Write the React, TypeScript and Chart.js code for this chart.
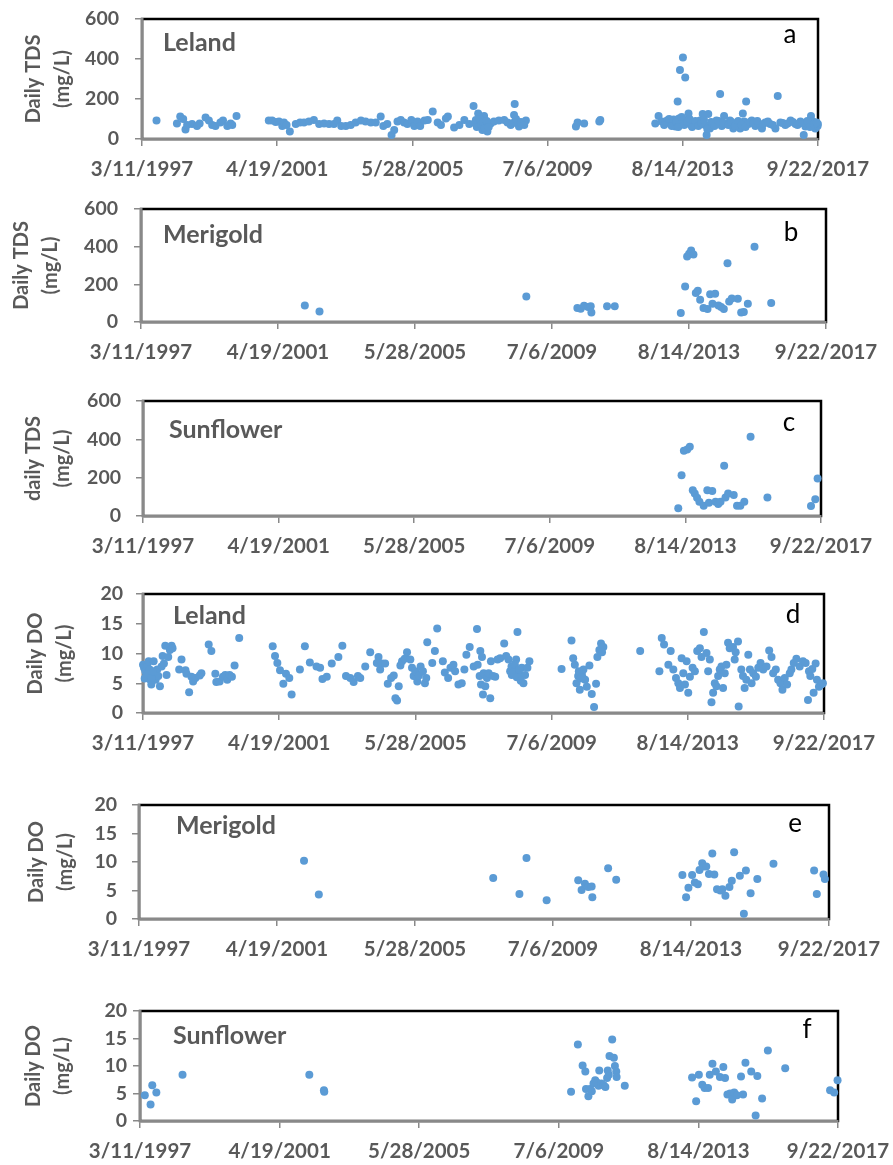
import React, { useEffect, useRef } from 'react';
import { Chart, registerables } from 'chart.js';

Chart.register(...registerables);

// ---------- axis ticks ----------
const xTickValues = [1997.189, 2001.296, 2005.403, 2009.51, 2013.616, 2017.723];
const xTickLabels = ['3/11/1997', '4/19/2001', '5/28/2005', '7/6/2009', '8/14/2013', '9/22/2017'];
const tdsTickValues = [0, 200, 400, 600];
const doTickValues = [0, 5, 10, 15, 20];

// ---------- data (x = decimal year, y = mg/L) ----------
const lelandTdsYears = [
  1997.63, 1998.25, 1998.35, 1998.44, 1998.51, 1998.56, 1998.71, 1998.86, 1998.94, 1999.12, 1999.22, 1999.32,
  1999.42, 1999.57, 1999.65, 1999.78, 1999.88, 1999.93, 2000.06, 2001.04, 2001.14, 2001.25, 2001.35, 2001.45,
  2001.5, 2001.58, 2001.68, 2001.86, 2001.99, 2002.11, 2002.26, 2002.41, 2002.57, 2002.72, 2002.87, 2003.02,
  2003.12, 2003.24, 2003.38, 2003.53, 2003.68, 2003.84, 2003.98, 2004.14, 2004.29, 2004.44, 2004.52, 2004.64,
  2004.77, 2004.85, 2004.95, 2005.05, 2005.15, 2005.25, 2005.37, 2005.46, 2005.56, 2005.64, 2005.77, 2005.87,
  2006.02, 2006.17, 2006.27, 2006.42, 2006.48, 2006.67, 2006.83, 2006.98, 2007.13, 2007.26, 2007.33, 2007.4,
  2007.43, 2007.48, 2007.53, 2007.58, 2007.63, 2007.68, 2007.78, 2007.88, 2008.03, 2008.19, 2008.29, 2008.39,
  2008.49, 2008.51, 2008.57, 2008.64, 2008.74, 2008.85, 2007.3, 2007.36, 2007.45, 2007.5, 2007.55, 2007.6,
  2007.66, 2007.72, 2008.45, 2008.55, 2008.7, 2008.8, 2010.37, 2010.42, 2010.62, 2011.08, 2011.11, 2012.78,
  2012.88, 2012.98, 2013.14, 2013.24, 2013.34, 2013.39, 2013.46, 2013.5, 2013.53, 2013.56, 2013.62, 2013.69,
  2013.72, 2013.79, 2013.86, 2013.94, 2014.04, 2014.14, 2014.22, 2014.29, 2014.34, 2014.39, 2014.44, 2014.54,
  2014.64, 2014.75, 2014.8, 2014.87, 2014.95, 2015.05, 2015.15, 2015.25, 2015.36, 2015.44, 2015.48, 2015.54,
  2015.61, 2015.71, 2015.82, 2015.92, 2016.02, 2016.12, 2016.27, 2016.43, 2016.5, 2016.58, 2016.73, 2016.89,
  2017.04, 2017.19, 2017.29, 2017.34, 2017.44, 2017.51, 2017.57, 2017.64, 2017.71, 2017.72, 2013.05, 2013.2,
  2013.28, 2013.42, 2013.48, 2013.58, 2013.66, 2013.75, 2013.82, 2013.9, 2014.0, 2014.09, 2014.18, 2014.26,
  2014.36, 2014.48, 2014.58, 2014.7, 2014.84, 2015.0, 2015.1, 2015.2, 2015.3, 2015.4, 2015.52, 2015.66,
  2015.76, 2015.88, 2016.06, 2016.2, 2016.35, 2016.65, 2016.8, 2016.96, 2017.1, 2017.25, 2017.4, 2017.48,
  2017.6, 2017.68,
];
const lelandTdsValues = [
  92, 78, 112, 100, 48, 70, 75, 65, 78, 108, 92, 70,
  65, 82, 92, 65, 78, 70, 115, 92, 92, 85, 87, 65,
  82, 70, 37, 75, 82, 82, 87, 95, 75, 78, 75, 75,
  92, 65, 65, 70, 82, 92, 87, 82, 82, 112, 65, 75,
  20, 45, 87, 95, 82, 75, 95, 65, 87, 65, 92, 95,
  137, 82, 70, 103, 112, 58, 70, 95, 75, 165, 95, 128,
  65, 87, 45, 115, 75, 37, 78, 87, 92, 95, 82, 70,
  120, 175, 87, 62, 75, 92, 80, 60, 100, 70, 85, 55,
  90, 60, 80, 100, 85, 70, 62, 82, 78, 87, 95, 78,
  115, 87, 92, 78, 98, 62, 187, 103, 345, 78, 408, 308,
  95, 128, 70, 82, 75, 92, 125, 70, 20, 125, 53, 75,
  92, 225, 65, 115, 75, 92, 53, 78, 53, 128, 87, 187,
  75, 92, 65, 75, 53, 82, 75, 53, 215, 82, 70, 92,
  75, 87, 20, 62, 70, 115, 87, 53, 65, 75, 70, 100,
  65, 85, 60, 110, 70, 85, 100, 60, 90, 65, 80, 95,
  50, 85, 65, 90, 80, 70, 85, 65, 90, 70, 60, 85,
  80, 90, 75, 88, 70, 80, 78, 85, 70, 80, 90, 60,
  75, 82,
];

const merigoldTdsYears = [
  2002.1, 2002.54, 2008.74, 2010.27, 2010.37, 2010.47, 2010.59, 2010.67, 2010.69, 2011.16, 2011.39, 2013.37,
  2013.5, 2013.56, 2013.62, 2013.68, 2013.75, 2013.82, 2013.88, 2013.95, 2014.05, 2014.17, 2014.25, 2014.32,
  2014.4, 2014.5, 2014.58, 2014.66, 2014.77, 2014.82, 2014.9, 2015.08, 2015.18, 2015.26, 2015.38, 2015.58,
  2016.08,
];
const merigoldTdsValues = [
  88, 56, 136, 74, 70, 86, 79, 83, 51, 83, 83, 48,
  189, 348, 362, 380, 358, 154, 166, 118, 74, 69, 148, 97,
  150, 88, 79, 69, 312, 109, 125, 124, 51, 53, 97, 400,
  101,
];

const sunflowerTdsYears = [
  2013.4, 2013.5, 2013.57, 2013.67, 2013.75, 2013.84, 2013.9, 2013.97, 2014.04, 2014.17, 2014.28, 2014.33,
  2014.43, 2014.53, 2014.61, 2014.68, 2014.79, 2014.83, 2014.91, 2015.08, 2015.18, 2015.28, 2015.4, 2015.59,
  2016.1, 2017.42, 2017.55, 2017.62,
];
const sunflowerTdsValues = [
  40, 213, 340, 347, 361, 135, 118, 95, 75, 54, 135, 69,
  130, 75, 62, 75, 262, 97, 118, 109, 54, 54, 75, 413,
  97, 52, 88, 196,
];

const lelandDoYears = [
  1997.19, 1997.22, 1997.26, 1997.29, 1997.32, 1997.36, 1997.39, 1997.41, 1997.44, 1997.47, 1997.51, 1997.54,
  1997.57, 1997.62, 1997.65, 1997.7, 1997.75, 1997.78, 1997.82, 1997.86, 1997.9, 1997.95, 1998.0, 1998.05,
  1998.08, 1997.24, 1997.34, 1997.45, 1997.49, 1998.28, 1998.35, 1998.47, 1998.5, 1998.58, 1998.65, 1998.7,
  1998.77, 1998.9, 1998.95, 1999.17, 1999.25, 1999.37, 1999.4, 1999.5, 1999.6, 1999.67, 1999.73, 1999.8,
  1999.87, 1999.95, 2000.09, 2001.1, 2001.17, 2001.24, 2001.32, 2001.42, 2001.5, 2001.6, 2001.67, 2001.92,
  2002.07, 2002.22, 2002.42, 2002.53, 2002.6, 2002.73, 2002.88, 2003.08, 2003.2, 2003.31, 2003.44, 2003.54,
  2003.67, 2003.74, 2003.89, 2004.04, 2004.24, 2004.29, 2004.34, 2004.39, 2004.49, 2004.57, 2004.67, 2004.75,
  2004.8, 2004.85, 2004.9, 2004.95, 2005.0, 2005.08, 2005.15, 2005.25, 2005.3, 2005.35, 2005.4, 2005.46,
  2005.51, 2005.56, 2005.63, 2005.69, 2005.73, 2005.76, 2005.91, 2005.99, 2006.06, 2006.23, 2006.29, 2006.39,
  2006.46, 2006.55, 2006.6, 2006.7, 2006.8, 2006.88, 2006.94, 2007.04, 2007.16, 2007.26, 2007.28, 2007.34,
  2007.36, 2007.38, 2007.41, 2007.44, 2007.46, 2007.51, 2007.56, 2007.61, 2007.66, 2007.68, 2007.74, 2007.81,
  2007.88, 2007.96, 2008.08, 2008.14, 2008.21, 2008.26, 2008.31, 2008.38, 2008.44, 2008.48, 2008.51, 2008.56,
  2008.61, 2008.66, 2008.71, 2008.78, 2008.84, 2008.3, 2008.35, 2008.4, 2008.46, 2008.53, 2008.58, 2009.81,
  2010.11, 2010.16, 2010.21, 2010.26, 2010.31, 2010.36, 2010.42, 2010.47, 2010.52, 2010.57, 2010.65, 2010.72,
  2010.79, 2010.85, 2010.89, 2010.95, 2011.0, 2011.07, 2010.33, 2010.38, 2010.44, 2011.03, 2012.18, 2012.76,
  2012.83, 2012.9, 2013.03, 2013.1, 2013.18, 2013.26, 2013.33, 2013.38, 2013.43, 2013.48, 2013.53, 2013.58,
  2013.63, 2013.68, 2013.76, 2013.83, 2013.9, 2013.98, 2014.03, 2014.1, 2014.18, 2014.23, 2014.28, 2014.33,
  2014.38, 2014.43, 2014.48, 2014.53, 2014.58, 2014.63, 2014.68, 2014.73, 2014.78, 2014.83, 2014.88, 2014.98,
  2015.03, 2015.06, 2015.13, 2015.15, 2015.23, 2015.28, 2015.33, 2015.38, 2015.44, 2015.49, 2015.54, 2015.59,
  2015.67, 2015.74, 2015.81, 2015.89, 2015.99, 2016.07, 2016.14, 2016.19, 2016.27, 2016.34, 2016.41, 2016.47,
  2016.54, 2016.61, 2016.69, 2016.74, 2016.81, 2016.89, 2016.99, 2017.09, 2017.17, 2017.24, 2017.27, 2017.31,
  2017.37, 2017.41, 2017.47, 2017.51, 2017.57, 2017.64, 2017.69,
];
const lelandDoValues = [
  8.1, 7.6, 7.0, 6.2, 7.8, 8.7, 7.3, 5.6, 4.8, 6.2, 8.7, 6.7,
  5.6, 7.3, 6.2, 4.5, 7.8, 9.6, 8.3, 11.3, 6.4, 9.4, 10.6, 11.3,
  10.9, 5.8, 6.5, 5.9, 7.0, 7.3, 9.0, 7.2, 6.6, 3.5, 6.1, 5.3,
  5.9, 6.3, 6.7, 11.5, 10.4, 6.6, 5.2, 5.3, 6.1, 6.4, 5.6, 6.4,
  6.1, 8.0, 12.6, 11.2, 9.6, 8.4, 7.2, 4.9, 6.6, 5.9, 3.1, 7.3,
  11.2, 8.5, 7.8, 7.6, 5.7, 6.1, 8.3, 9.4, 11.3, 6.2, 5.9, 5.2,
  6.2, 5.9, 7.8, 10.2, 8.4, 9.4, 7.3, 8.3, 8.3, 4.9, 5.9, 6.3,
  2.5, 2.1, 4.5, 8.0, 8.7, 9.1, 10.2, 9.0, 7.6, 6.2, 7.0, 5.3,
  6.3, 7.8, 7.0, 5.0, 5.9, 11.9, 8.4, 10.4, 14.2, 8.7, 6.8, 5.9,
  7.6, 8.1, 7.0, 4.8, 5.0, 7.3, 9.8, 11.1, 7.8, 14.1, 8.1, 6.2,
  10.4, 4.8, 9.4, 3.1, 6.7, 4.5, 5.9, 6.7, 2.5, 8.7, 6.2, 6.1,
  9.0, 9.2, 11.7, 9.6, 9.0, 7.0, 6.4, 7.6, 9.0, 13.6, 7.0, 6.2,
  7.6, 5.0, 6.4, 7.6, 8.7, 7.8, 6.8, 8.2, 6.0, 7.3, 5.4, 7.4,
  12.2, 9.2, 8.1, 5.0, 6.2, 3.9, 6.7, 7.3, 5.6, 4.4, 8.0, 3.2,
  1.0, 4.9, 9.4, 10.6, 11.7, 11.1, 7.0, 5.8, 6.0, 10.2, 10.4, 7.0,
  12.6, 11.5, 8.1, 10.4, 7.3, 5.9, 5.0, 4.2, 9.2, 6.7, 4.8, 8.7,
  3.4, 6.1, 7.6, 7.0, 10.4, 10.9, 9.4, 13.6, 10.1, 7.0, 9.0, 1.8,
  3.4, 5.0, 4.5, 6.2, 7.3, 7.8, 4.2, 6.7, 8.1, 11.8, 10.9, 11.1,
  9.0, 10.2, 12.0, 1.1, 7.3, 6.2, 4.2, 5.6, 9.8, 7.3, 5.0, 6.7,
  6.1, 7.6, 8.4, 7.3, 7.8, 10.5, 9.4, 6.7, 7.3, 5.6, 5.0, 3.9,
  5.9, 4.8, 6.7, 7.3, 8.4, 9.1, 7.8, 8.7, 8.4, 2.2, 7.0, 6.2,
  7.4, 3.4, 8.3, 5.6, 4.4, 4.8, 5.0,
];

const merigoldDoYears = [
  2002.1, 2002.54, 2007.73, 2008.51, 2008.72, 2009.32, 2010.26, 2010.36, 2010.46, 2010.56, 2010.66, 2010.68,
  2011.15, 2011.39, 2013.36, 2013.47, 2013.54, 2013.65, 2013.73, 2013.82, 2013.87, 2013.95, 2013.99, 2014.07,
  2014.15, 2014.25, 2014.31, 2014.39, 2014.49, 2014.55, 2014.64, 2014.76, 2014.83, 2014.9, 2015.07, 2015.19,
  2015.25, 2015.39, 2015.59, 2016.07, 2017.28, 2017.36, 2017.56, 2017.6,
];
const merigoldDoValues = [
  10.2, 4.3, 7.2, 4.4, 10.7, 3.3, 6.8, 5.1, 6.2, 5.6, 5.7, 3.8,
  8.9, 6.9, 7.7, 3.8, 5.5, 7.7, 6.4, 6.1, 8.6, 9.8, 9.2, 9.2,
  7.9, 11.5, 7.8, 5.2, 5.0, 5.2, 4.1, 5.6, 6.7, 11.7, 7.6, 0.9,
  8.5, 4.5, 7.0, 9.7, 8.5, 4.4, 7.8, 7.0,
];

const sunflowerDoYears = [
  1997.33, 1997.5, 1997.55, 1997.67, 1998.44, 2002.17, 2002.6, 2002.61, 2009.87, 2010.07, 2010.21, 2010.29,
  2010.31, 2010.38, 2010.43, 2010.48, 2010.53, 2010.58, 2010.63, 2010.68, 2010.7, 2010.76, 2010.83, 2010.88,
  2010.93, 2010.95, 2010.98, 2011.0, 2011.08, 2011.13, 2011.16, 2011.2, 2011.21, 2011.45, 2013.43, 2013.55,
  2013.63, 2013.73, 2013.8, 2013.9, 2013.95, 2014.03, 2014.13, 2014.25, 2014.35, 2014.4, 2014.47, 2014.55,
  2014.61, 2014.67, 2014.75, 2014.87, 2014.93, 2015.0, 2015.17, 2015.3, 2015.35, 2015.49, 2015.66, 2016.17,
  2017.49, 2017.61, 2017.71,
];
const sunflowerDoValues = [
  4.7, 3.0, 6.5, 5.2, 8.4, 8.4, 5.6, 5.3, 5.3, 13.9, 10.1, 9.0,
  5.8, 4.5, 5.8, 5.4, 6.8, 7.4, 7.0, 6.4, 9.2, 6.8, 6.5, 6.2,
  7.8, 9.2, 8.4, 11.8, 14.8, 11.5, 10.0, 9.0, 8.0, 6.4, 7.9, 3.6,
  8.4, 6.6, 6.0, 6.0, 8.4, 10.4, 9.0, 8.0, 9.8, 7.8, 4.8, 5.0,
  3.9, 5.2, 4.7, 8.1, 4.8, 10.6, 9.0, 1.0, 8.2, 4.1, 12.8, 9.6,
  5.6, 5.2, 7.4,
];

// ---------- panel layout ----------
type PanelCfg = {
  years: number[]; values: number[];
  yTicks: number[]; yTitle: string[];
  station: string; letter: string;
  L: number; R: number; T: number; B: number;
  titlePad: number; yTickPad: number;
  stationDx: number; stationDy: number; letterDx: number; letterDy: number;
};

const panels: PanelCfg[] = [
  { years: lelandTdsYears, values: lelandTdsValues, yTicks: tdsTickValues, yTitle: ['Daily TDS', '(mg/L)'],
    station: 'Leland', letter: 'a', L: 142, R: 818, T: 19, B: 139, titlePad: 19, yTickPad: 16,
    stationDx: 21, stationDy: 32, letterDx: 28, letterDy: 24 },
  { years: merigoldTdsYears, values: merigoldTdsValues, yTicks: tdsTickValues, yTitle: ['Daily TDS', '(mg/L)'],
    station: 'Merigold', letter: 'b', L: 141, R: 826, T: 209, B: 322, titlePad: 7, yTickPad: 16,
    stationDx: 22, stationDy: 34, letterDx: 35, letterDy: 32 },
  { years: sunflowerTdsYears, values: sunflowerTdsValues, yTicks: tdsTickValues, yTitle: ['daily TDS', '(mg/L)'],
    station: 'Sunflower', letter: 'c', L: 143, R: 821, T: 401, B: 516, titlePad: 19, yTickPad: 15,
    stationDx: 26, stationDy: 37, letterDx: 32, letterDy: 30 },
  { years: lelandDoYears, values: lelandDoValues, yTicks: doTickValues, yTitle: ['Daily DO', '(mg/L)'],
    station: 'Leland', letter: 'd', L: 143, R: 824, T: 594, B: 713, titlePad: 21, yTickPad: 13,
    stationDx: 30, stationDy: 30, letterDx: 31, letterDy: 29 },
  { years: merigoldDoYears, values: merigoldDoValues, yTicks: doTickValues, yTitle: ['Daily DO', '(mg/L)'],
    station: 'Merigold', letter: 'e', L: 139, R: 829, T: 805, B: 919, titlePad: 22, yTickPad: 15,
    stationDx: 37, stationDy: 29, letterDx: 34, letterDy: 27 },
  { years: sunflowerDoYears, values: sunflowerDoValues, yTicks: doTickValues, yTitle: ['Daily DO', '(mg/L)'],
    station: 'Sunflower', letter: 'f', L: 140, R: 838, T: 1011, B: 1121, titlePad: 19, yTickPad: 6,
    stationDx: 33, stationDy: 33, letterDx: 31, letterDy: 27 },
];

const W = 893;
const TOP_PAD = 15;
const X_AXIS_H = 50;
const GRAY_TEXT = '#595959';
const AXIS_GRAY = '#898989';
const POINT_BLUE = '#5B9BD5';
const FONT = 'Lato, "Open Sans", sans-serif';

const panelDecor = {
  id: 'panelDecor',
  beforeDraw(chart: any) {
    const { ctx, chartArea } = chart;
    const { left, top, right, bottom } = chartArea;
    ctx.save();
    ctx.strokeStyle = '#000000';
    ctx.lineWidth = 2.5;
    ctx.strokeRect(left, top, right - left, bottom - top);
    ctx.restore();
  },
  afterDraw(chart: any, _args: any, opts: any) {
    const { ctx, chartArea } = chart;
    const { left, top, right } = chartArea;
    ctx.save();
    ctx.textBaseline = 'alphabetic';
    ctx.textAlign = 'left';
    ctx.fillStyle = GRAY_TEXT;
    ctx.font = `bold 25px ${FONT}`;
    ctx.fillText(opts.station, left + opts.stationDx, top + opts.stationDy);
    ctx.textAlign = 'center';
    ctx.fillStyle = '#000000';
    ctx.font = `26px ${FONT}`;
    ctx.fillText(opts.letter, right - opts.letterDx, top + opts.letterDy);
    ctx.restore();
  },
};

function Panel({ cfg }: { cfg: PanelCfg }) {
  const ref = useRef<HTMLCanvasElement | null>(null);
  const height = cfg.B - cfg.T + TOP_PAD + X_AXIS_H;
  useEffect(() => {
    if (!ref.current) return;
    const chart = new Chart(ref.current, {
      type: 'scatter',
      data: {
        datasets: [
          {
            data: cfg.years.map((x, i) => ({ x, y: cfg.values[i] })),
            backgroundColor: POINT_BLUE,
            borderWidth: 0,
            pointRadius: 4,
            clip: false as any,
          },
        ],
      },
      options: {
        responsive: false,
        animation: false,
        events: [],
        layout: { padding: { top: TOP_PAD, left: 0, right: W - cfg.R, bottom: 0 } },
        plugins: {
          legend: { display: false },
          tooltip: { enabled: false },
          panelDecor: {
            station: cfg.station, letter: cfg.letter,
            stationDx: cfg.stationDx, stationDy: cfg.stationDy,
            letterDx: cfg.letterDx, letterDy: cfg.letterDy,
          },
        } as any,
        scales: {
          x: {
            type: 'linear',
            min: xTickValues[0],
            max: xTickValues[xTickValues.length - 1],
            afterBuildTicks: (s: any) => { s.ticks = xTickValues.map((v) => ({ value: v })); },
            afterFit: (s: any) => { s.height = X_AXIS_H; s.paddingLeft = 0; s.paddingRight = 0; },
            ticks: {
              autoSkip: false,
              maxRotation: 0,
              padding: 11,
              color: GRAY_TEXT,
              font: { family: FONT, weight: 'bold', size: 20.5 },
              callback: (_v: any, i: number) => xTickLabels[i],
            },
            grid: { drawOnChartArea: false, drawTicks: true, tickLength: 7, color: AXIS_GRAY, lineWidth: 1.5 },
            border: { display: true, color: AXIS_GRAY, width: 2.5 },
          },
          y: {
            type: 'linear',
            min: cfg.yTicks[0],
            max: cfg.yTicks[cfg.yTicks.length - 1],
            afterBuildTicks: (s: any) => { s.ticks = cfg.yTicks.map((v) => ({ value: v })); },
            afterFit: (s: any) => { s.width = cfg.L; s.paddingTop = 0; s.paddingBottom = 0; },
            ticks: {
              autoSkip: false,
              autoSkipPadding: 0,
              padding: cfg.yTickPad,
              color: GRAY_TEXT,
              font: { family: FONT, weight: 'bold', size: 19.5, lineHeight: 1 },
              callback: (v: any) => String(v),
            },
            grid: { drawOnChartArea: false, drawTicks: true, tickLength: 7, color: AXIS_GRAY, lineWidth: 1.5 },
            border: { display: true, color: AXIS_GRAY, width: 2.5 },
            title: {
              display: true,
              text: cfg.yTitle,
              color: GRAY_TEXT,
              font: { family: FONT, weight: 'bold', size: 20, lineHeight: 1.45 },
              padding: { top: cfg.titlePad, bottom: 0 },
            },
          },
        },
      } as any,
      plugins: [panelDecor],
    });
    return () => chart.destroy();
  }, [cfg]);
  return (
    <canvas
      ref={ref}
      width={W}
      height={height}
      style={{ position: 'absolute', left: 0, top: cfg.T - TOP_PAD, width: W, height, display: 'block' }}
    />
  );
}

export default function App() {
  return (
    <div style={{ position: 'absolute', left: 0, top: 0, width: W, height: 1165, background: '#ffffff' }}>
      {panels.map((p, i) => (
        <Panel key={i} cfg={p} />
      ))}
    </div>
  );
}
